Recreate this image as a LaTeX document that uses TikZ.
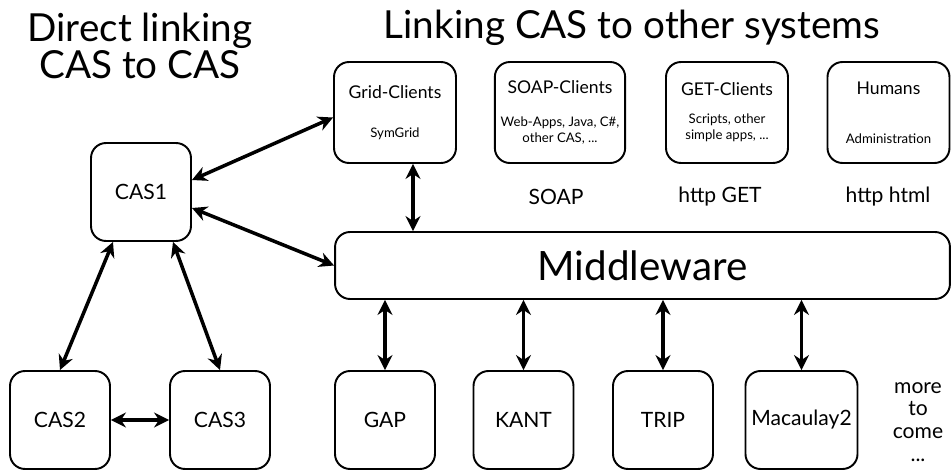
\documentclass[tikz,border=0pt]{standalone}
\usepackage{fontspec}
\setmainfont{Lato}
\usetikzlibrary{arrows.meta}
\newcommand\smalltext{\fontsize{7.5}{8.5}\selectfont}
\begin{document}
\begin{tikzpicture}
    [x=0.02cm, y=-0.02cm,
     box/.style={draw, rounded corners=0.3cm, line width=1.1pt, minimum width=2cm, minimum height=1.96cm,
                 align=center, font=\fontsize{12}{14}\selectfont},
     client/.style={box, minimum width=2.44cm, minimum height=2.02cm, font=\fontsize{10}{9}\selectfont},
     proto/.style={font=\fontsize{12}{14}\selectfont},
     heading/.style={align=center, font=\fontsize{22}{21}\selectfont},
     link/.style={{Stealth[length=8.5pt,width=8.5pt]}-{Stealth[length=8.5pt,width=8.5pt]}, line width=2pt}]
    \useasboundingbox (0,0) rectangle (951,470);
    % headings
    \node[heading] (direct) at (140,46) {Direct linking\\CAS to CAS};
    \node[heading] (other) at (632,28) {Linking CAS to other systems};
    % direct CAS to CAS
    \node[box] (cas1) at (141,192) {CAS1};
    \node[box] (cas2) at (60,420) {CAS2};
    \node[box] (cas3) at (220,420) {CAS3};
    % clients
    \node[client] (grid) at (395,112.5) {Grid-Clients\\[13pt]\smalltext SymGrid};
    \node[client] (soap) at (560,112.5) {SOAP-Clients\\[10pt]\smalltext Web-Apps, Java, C\#,\\\smalltext other CAS, ...};
    \node[client] (get) at (727,112.5) {GET-Clients\\[7pt]\smalltext Scripts, other\\\smalltext simple apps, ...};
    \node[client] (humans) at (888.5,112.5) {Humans\\[19pt]\smalltext Administration};
    \node[proto] (soaplabel) at (556,197) {SOAP};
    \node[proto] (getlabel) at (720,197) {http GET};
    \node[proto] (htmllabel) at (888,197) {http html};
    \node[box, minimum width=12.3cm, minimum height=1.34cm, font=\fontsize{23}{26}\selectfont] (mw) at (642.5,265.5) {Middleware};
    % systems
    \node[box] (gap) at (385,420) {GAP};
    \node[box] (kant) at (523.5,420) {KANT};
    \node[box] (trip) at (663,420) {TRIP};
    \node[box] (mac) at (801.5,420) {Macaulay2};
    \node[proto, align=center, font=\fontsize{12}{13}\selectfont] (more) at (918,422) {more\\to\\come\\...};
    % connectors
    \draw[link] ([yshift=0.24cm]cas1.east) -- ([yshift=-0.1cm]grid.west);
    \draw[link] ([yshift=-0.32cm]cas1.east) -- (mw.west);
    \draw[link] ([xshift=-0.56cm]cas1.south) -- (cas2.north);
    \draw[link] ([xshift=0.64cm]cas1.south) -- (cas3.north);
    \draw[link] (cas2.east) -- (cas3.west);
    \draw[link] ([xshift=0.36cm]grid.south) -- ([xshift=0.36cm]grid.south |- mw.north);
    \foreach \s in {gap,kant,trip,mac}
        \draw[link] (\s.north) -- (\s.north |- mw.south);
\end{tikzpicture}
\end{document}
